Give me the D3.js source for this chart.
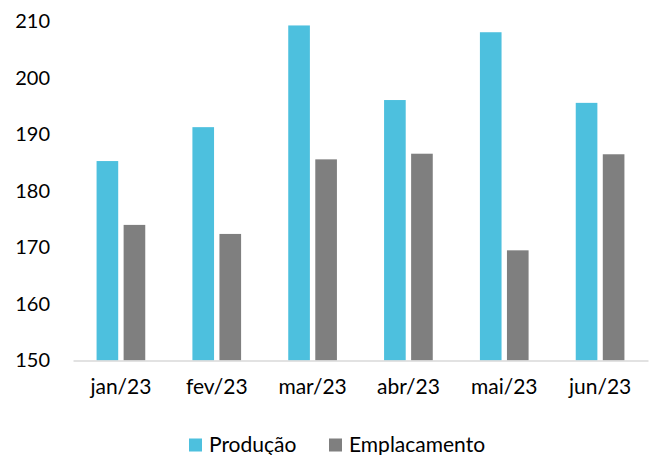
<!DOCTYPE html>
<html>
<head>
<meta charset="utf-8">
<script src="https://cdn.jsdelivr.net/npm/d3@7"></script>
<style>
  body { margin: 0; background: #fff; }
  text { font-family: Lato, "Open Sans", sans-serif; fill: #000; }
</style>
</head>
<body>
<div id="chart"></div>
<script>
// monthly values
const months = ['jan/23', 'fev/23', 'mar/23', 'abr/23', 'mai/23', 'jun/23']
const series = ['Produção', 'Emplacamento']
const producao = [185.3, 191.3, 209.3, 196.1, 208.1, 195.6]
const emplacamento = [174.0, 172.4, 185.6, 186.6, 169.5, 186.5]
const yTicks = [150, 160, 170, 180, 190, 200, 210]
const colors = ['#4DC0DE', '#7F7F7F']

const fullWidth = 656
const fullHeight = 455
const margin = { top: 21.5, right: 8, bottom: 94.5, left: 73 }
const width = fullWidth - margin.left - margin.right
const height = fullHeight - margin.top - margin.bottom

const svg = d3.select('#chart').append('svg')
    .attr('width', fullWidth)
    .attr('height', fullHeight)

const g = svg.append('g')
    .attr('transform', 'translate(' + margin.left + ',' + margin.top + ')')

const x0 = d3.scaleBand().domain(months).range([0, width])
    .paddingInner(0.492).paddingOuter(0.246)
const x1 = d3.scaleBand().domain(series).range([0, x0.bandwidth()])
    .paddingInner(0.2)
const y = d3.scaleLinear().domain([150, 210]).range([height, 0])

const rows = months.map((m, i) => ({ month: m, values: [producao[i], emplacamento[i]] }))

// bars
g.append('g').selectAll('g')
    .data(rows)
    .enter().append('g')
    .attr('transform', d => 'translate(' + x0(d.month) + ',0)')
    .selectAll('rect')
    .data(d => d.values.map((v, i) => ({ key: series[i], value: v, i: i })))
    .enter().append('rect')
    .attr('x', d => x1(d.key))
    .attr('y', d => y(d.value))
    .attr('width', x1.bandwidth())
    .attr('height', d => height - y(d.value))
    .attr('fill', d => colors[d.i])

// y axis, labels only
const yAxis = g.append('g')
    .call(d3.axisLeft(y).tickValues(yTicks).tickSize(0).tickPadding(23))
yAxis.select('.domain').remove()
yAxis.selectAll('text').attr('font-size', 20).attr('font-family', 'Lato, sans-serif')

// x axis
const xAxis = g.append('g')
    .attr('transform', 'translate(0,' + height + ')')
    .call(d3.axisBottom(x0).tickSize(0).tickPadding(19))
xAxis.select('.domain').attr('stroke', '#D9D9D9').attr('stroke-width', 1.5)
xAxis.selectAll('text').attr('font-size', 21).attr('font-family', 'Lato, sans-serif')

// legend
const legend = svg.append('g').attr('transform', 'translate(0,445)')
const legendX = [189, 329]
series.forEach((s, i) => {
    legend.append('rect')
        .attr('x', legendX[i]).attr('y', -6.5)
        .attr('width', 13).attr('height', 13)
        .attr('fill', colors[i])
    legend.append('text')
        .attr('x', legendX[i] + 20).attr('y', 0)
        .attr('dy', '0.35em')
        .attr('font-size', 21)
        .text(s)
})
</script>
</body>
</html>
